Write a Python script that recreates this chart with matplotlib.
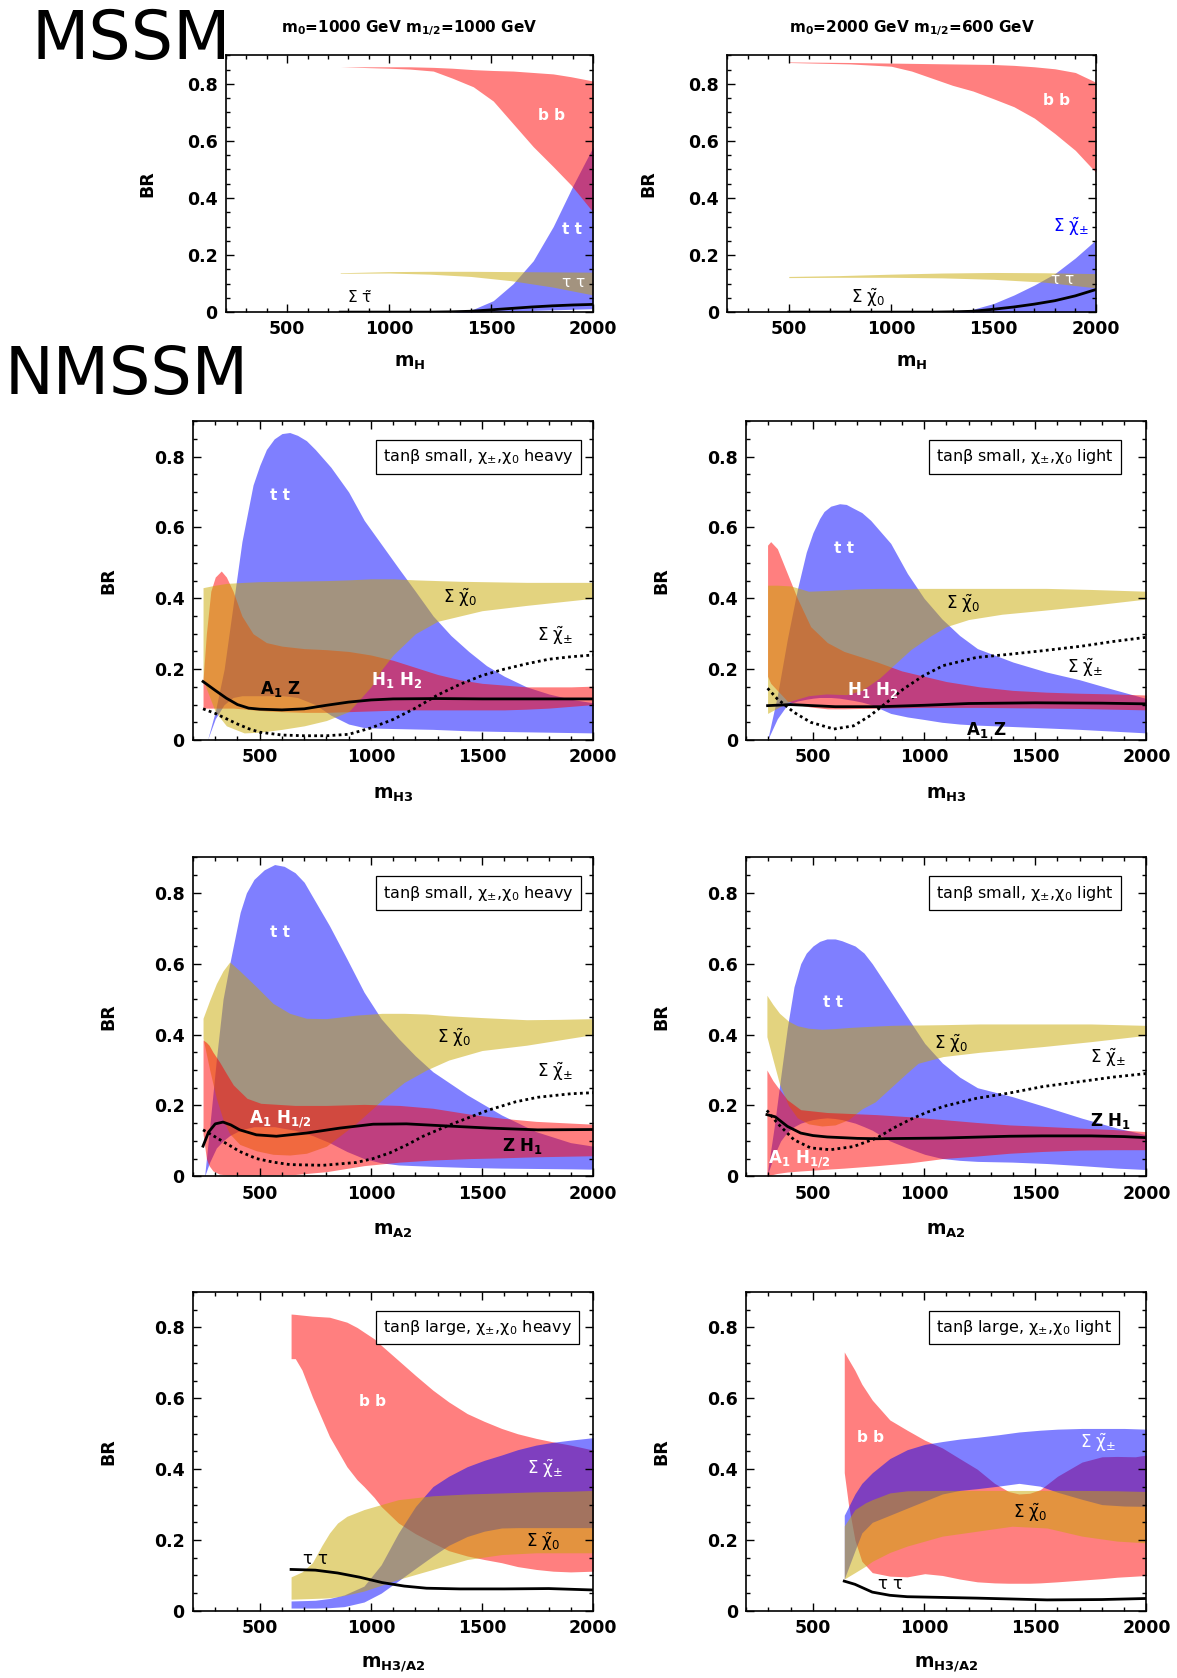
import matplotlib
matplotlib.use("Agg")
import matplotlib.pyplot as plt
from matplotlib.ticker import MultipleLocator

plt.rcParams['font.family'] = ['DejaVu Sans']
plt.rcParams['mathtext.default'] = 'regular'

# ---------------- data ----------------
# MSSM, m0=1000 m1/2=1000
p1_bb_x = [760, 900, 1000, 1100, 1216, 1310, 1412, 1510, 1608, 1706, 1804, 1892, 2000]
p1_bb_hi = [0.86, 0.86, 0.86, 0.86, 0.858, 0.855, 0.85, 0.847, 0.845, 0.84, 0.835, 0.825, 0.81]
p1_bb_lo = [0.86, 0.857, 0.855, 0.852, 0.845, 0.82, 0.79, 0.74, 0.66, 0.58, 0.51, 0.445, 0.35]
p1_tt_x = [1310, 1412, 1510, 1608, 1706, 1804, 1902, 2000]
p1_tt_hi = [0.0, 0.01, 0.04, 0.1, 0.18, 0.3, 0.445, 0.58]
p1_tt_lo = [0.0, 0.0, 0.002, 0.004, 0.006, 0.008, 0.01, 0.012]
p1_tau_x = [760, 1000, 1200, 1400, 1600, 1800, 2000]
p1_tau_hi = [0.138, 0.142, 0.143, 0.143, 0.142, 0.141, 0.14]
p1_tau_lo = [0.136, 0.137, 0.133, 0.125, 0.11, 0.088, 0.06]
p1_stau_x = [760, 1000, 1200, 1300, 1400, 1500, 1600, 1700, 1800, 1900, 2000]
p1_stau = [0, 0, 0, 0.001, 0.003, 0.008, 0.013, 0.018, 0.022, 0.025, 0.027]

# MSSM, m0=2000 m1/2=600
p2_bb_x = [500, 800, 1000, 1100, 1200, 1300, 1400, 1500, 1600, 1700, 1800, 1900, 2000]
p2_bb_hi = [0.877, 0.875, 0.873, 0.872, 0.871, 0.87, 0.869, 0.868, 0.865, 0.86, 0.853, 0.84, 0.806]
p2_bb_lo = [0.875, 0.87, 0.862, 0.845, 0.82, 0.795, 0.775, 0.748, 0.72, 0.68, 0.626, 0.567, 0.49]
p2_chipm_x = [1300, 1400, 1500, 1600, 1700, 1800, 1900, 2000]
p2_chipm_hi = [0.0, 0.01, 0.03, 0.06, 0.095, 0.135, 0.19, 0.253]
p2_chipm_lo = [0, 0, 0, 0, 0, 0, 0, 0]
p2_tau_x = [500, 750, 1000, 1250, 1500, 1750, 2000]
p2_tau_hi = [0.125, 0.128, 0.133, 0.137, 0.139, 0.138, 0.135]
p2_tau_lo = [0.121, 0.122, 0.122, 0.12, 0.115, 0.105, 0.085]
p2_chi0_x = [500, 1000, 1200, 1300, 1400, 1500, 1600, 1700, 1800, 1900, 2000]
p2_chi0 = [0, 0, 0, 0.001, 0.003, 0.01, 0.018, 0.028, 0.04, 0.057, 0.079]

# NMSSM H3, tanb small, heavy
p3_tt_x = [265, 300, 340, 380, 420, 470, 500, 530, 565, 600, 635, 670, 710, 750, 820, 900, 970, 1050, 1130,
           1200, 1280, 1360, 1440, 1520, 1600, 1700, 1800, 1900, 2000]
p3_tt_hi = [0, 0.08, 0.2, 0.38, 0.56, 0.72, 0.775, 0.82, 0.85, 0.865, 0.868, 0.86, 0.845, 0.82, 0.77, 0.7,
            0.62, 0.55, 0.48, 0.42, 0.35, 0.295, 0.25, 0.21, 0.18, 0.15, 0.13, 0.115, 0.105]
p3_tt_lo = [0, 0.06, 0.1, 0.12, 0.125, 0.125, 0.125, 0.125, 0.125, 0.125, 0.123, 0.12, 0.11, 0.1, 0.07,
            0.045, 0.035, 0.033, 0.032, 0.031, 0.03, 0.028, 0.026, 0.025, 0.024, 0.023, 0.022, 0.021, 0.02]
p3_hh_x = [245, 260, 280, 300, 327, 350, 380, 420, 470, 530, 600, 700, 800, 900, 1000, 1100,
           1200, 1300, 1400, 1500, 1600, 1700, 1800, 1900, 2000]
p3_hh_hi = [0.17, 0.3, 0.42, 0.46, 0.477, 0.46, 0.42, 0.35, 0.3, 0.275, 0.265, 0.258, 0.255, 0.25, 0.24, 0.225,
            0.205, 0.185, 0.17, 0.16, 0.155, 0.15, 0.15, 0.15, 0.152]
p3_hh_lo = [0.09, 0.09, 0.09, 0.09, 0.09, 0.09, 0.09, 0.088, 0.085, 0.082, 0.08, 0.078, 0.078, 0.08, 0.082, 0.084,
            0.085, 0.085, 0.085, 0.085, 0.085, 0.087, 0.09, 0.095, 0.1]
p3_chi0_x = [245, 300, 350, 430, 500, 600, 700, 800, 900, 1000, 1050, 1100, 1200, 1300, 1400, 1500, 1700, 1850, 2000]
p3_chi0_hi = [0.43, 0.437, 0.442, 0.445, 0.447, 0.448, 0.449, 0.45, 0.452, 0.455, 0.455, 0.455, 0.452,
              0.45, 0.448, 0.447, 0.445, 0.445, 0.445]
p3_chi0_lo = [0.17, 0.08, 0.04, 0.02, 0.022, 0.03, 0.04, 0.055, 0.08, 0.15, 0.2, 0.24, 0.3, 0.335, 0.35,
              0.365, 0.38, 0.39, 0.4]
p3_a1z_x = [245, 300, 350, 400, 450, 500, 600, 700, 800, 900, 1000, 1100, 1300, 1500, 1750, 2000]
p3_a1z = [0.165, 0.14, 0.118, 0.1, 0.09, 0.087, 0.085, 0.088, 0.098, 0.107, 0.113, 0.116, 0.117, 0.116, 0.116, 0.116]
p3_chipm_x = [245, 300, 350, 400, 450, 500, 600, 700, 800, 900, 1000, 1100, 1200, 1300, 1400, 1500,
              1600, 1700, 1800, 1900, 2000]
p3_chipm = [0.088, 0.075, 0.06, 0.045, 0.032, 0.022, 0.014, 0.012, 0.012, 0.016, 0.034, 0.058, 0.09, 0.127,
            0.157, 0.182, 0.2, 0.215, 0.228, 0.235, 0.24]

# NMSSM H3, tanb small, light
p4_tt_x = [296, 340, 385, 430, 470, 500, 530, 550, 580, 620, 650, 680, 720, 760, 850, 925, 1000, 1080, 1160,
           1240, 1400, 1550, 1700, 1850, 2000]
p4_tt_hi = [0, 0.125, 0.285, 0.425, 0.53, 0.585, 0.625, 0.645, 0.66, 0.667, 0.665, 0.655, 0.642, 0.62, 0.555,
            0.47, 0.4, 0.342, 0.295, 0.258, 0.22, 0.192, 0.17, 0.143, 0.117]
p4_tt_lo = [0, 0.06, 0.1, 0.11, 0.115, 0.118, 0.12, 0.12, 0.12, 0.118, 0.115, 0.112, 0.107, 0.1, 0.075,
            0.065, 0.058, 0.05, 0.045, 0.042, 0.038, 0.034, 0.03, 0.025, 0.02]
p4_hh_x = [296, 310, 340, 385, 430, 490, 565, 640, 790, 900, 1000, 1100, 1250, 1400, 1550, 1700, 1850, 2000]
p4_hh_hi = [0.55, 0.56, 0.54, 0.47, 0.4, 0.32, 0.275, 0.25, 0.22, 0.195, 0.18, 0.165, 0.15, 0.14, 0.135, 0.132, 0.13, 0.127]
p4_hh_lo = [0.18, 0.16, 0.14, 0.11, 0.1, 0.093, 0.088, 0.088, 0.09, 0.091, 0.092, 0.092, 0.092, 0.091, 0.09, 0.089, 0.087, 0.085]
p4_chi0_x = [296, 340, 400, 480, 560, 650, 720, 800, 870, 940, 1030, 1100, 1200, 1350, 1550, 1750, 2000]
p4_chi0_hi = [0.437, 0.437, 0.435, 0.42, 0.422, 0.425, 0.427, 0.428, 0.428, 0.428, 0.428, 0.428, 0.428,
              0.428, 0.428, 0.425, 0.42]
p4_chi0_lo = [0.075, 0.09, 0.11, 0.125, 0.13, 0.128, 0.14, 0.175, 0.215, 0.255, 0.294, 0.32, 0.34, 0.355,
              0.367, 0.38, 0.398]
p4_a1z_x = [296, 400, 600, 800, 1000, 1200, 1500, 1800, 2000]
p4_a1z = [0.097, 0.1, 0.094, 0.094, 0.098, 0.103, 0.105, 0.104, 0.102]
p4_chipm_x = [296, 340, 415, 490, 594, 683, 758, 832, 907, 996, 1086, 1235, 1384, 1533, 1710, 1850, 2000]
p4_chipm = [0.146, 0.116, 0.078, 0.05, 0.031, 0.04, 0.069, 0.106, 0.144, 0.181, 0.21, 0.233, 0.242, 0.252,
            0.265, 0.278, 0.29]

# NMSSM A2, tanb small, heavy
p5_tt_x = [252, 275, 305, 335, 365, 412, 440, 474, 520, 567, 610, 659, 700, 737, 814, 892, 969, 1046, 1124,
           1200, 1279, 1433, 1588, 1743, 1898, 2000]
p5_tt_hi = [0, 0.14, 0.33, 0.5, 0.6, 0.745, 0.8, 0.838, 0.865, 0.88, 0.875, 0.857, 0.83, 0.79, 0.707, 0.614,
            0.52, 0.445, 0.389, 0.34, 0.295, 0.23, 0.173, 0.126, 0.095, 0.085]
p5_tt_lo = [0, 0.04, 0.08, 0.1, 0.115, 0.13, 0.135, 0.14, 0.14, 0.14, 0.135, 0.13, 0.122, 0.115, 0.095, 0.07,
            0.05, 0.038, 0.032, 0.03, 0.028, 0.025, 0.023, 0.022, 0.021, 0.02]
p5_ah_x = [245, 260, 272, 290, 319, 350, 381, 443, 505, 659, 800, 969, 1130, 1279, 1450, 1588, 1743, 2000]
p5_ah_hi = [0.385, 0.378, 0.37, 0.35, 0.323, 0.29, 0.258, 0.22, 0.206, 0.2, 0.2, 0.203, 0.2, 0.192, 0.175,
            0.164, 0.155, 0.147]
p5_ah_lo = [0.12, 0.05, 0.03, 0.015, 0.006, 0.004, 0.003, 0.003, 0.003, 0.005, 0.013, 0.03, 0.04, 0.046,
            0.05, 0.052, 0.055, 0.058]
p5_chi0_x = [245, 275, 305, 335, 365, 410, 485, 560, 635, 710, 800, 935, 1050, 1150, 1250, 1350, 1500, 1700, 1850, 2000]
p5_chi0_hi = [0.446, 0.497, 0.544, 0.58, 0.605, 0.58, 0.535, 0.488, 0.46, 0.446, 0.445, 0.455, 0.46, 0.46,
              0.458, 0.453, 0.448, 0.442, 0.443, 0.445]
p5_chi0_lo = [0.39, 0.3, 0.22, 0.16, 0.12, 0.09, 0.072, 0.062, 0.06, 0.065, 0.085, 0.15, 0.215, 0.265,
              0.3, 0.328, 0.355, 0.37, 0.385, 0.4]
p5_zh_x = [245, 270, 300, 335, 370, 410, 485, 575, 710, 860, 1010, 1160, 1310, 1535, 1750, 2000]
p5_zh = [0.085, 0.125, 0.148, 0.153, 0.145, 0.131, 0.117, 0.113, 0.122, 0.136, 0.147, 0.148, 0.143, 0.136, 0.131, 0.132]
p5_chipm_x = [245, 290, 335, 410, 485, 560, 635, 785, 935, 1010, 1085, 1160, 1235, 1355, 1450, 1535, 1650, 1750, 1900, 2000]
p5_chipm = [0.131, 0.115, 0.098, 0.07, 0.05, 0.04, 0.033, 0.031, 0.039, 0.05, 0.066, 0.088, 0.113, 0.145,
            0.168, 0.188, 0.21, 0.223, 0.233, 0.236]

# NMSSM A2, tanb small, light
p6_tt_x = [293, 326, 355, 385, 415, 445, 470, 500, 530, 563, 600, 630, 690, 730, 767, 846, 924, 1003, 1082,
           1160, 1240, 1396, 1553, 1710, 1868, 2000]
p6_tt_hi = [0, 0.14, 0.28, 0.42, 0.535, 0.6, 0.63, 0.65, 0.663, 0.67, 0.67, 0.665, 0.65, 0.63, 0.6, 0.525,
            0.45, 0.375, 0.32, 0.28, 0.25, 0.225, 0.195, 0.164, 0.136, 0.117]
p6_tt_lo = [0, 0.06, 0.1, 0.125, 0.14, 0.15, 0.155, 0.16, 0.163, 0.165, 0.163, 0.16, 0.15, 0.14, 0.13, 0.1,
            0.08, 0.062, 0.05, 0.045, 0.042, 0.04, 0.036, 0.03, 0.023, 0.019]
p6_ah_x = [293, 320, 340, 385, 445, 564, 640, 788, 937, 1086, 1235, 1384, 1532, 1700, 1850, 2000]
p6_ah_hi = [0.3, 0.27, 0.253, 0.216, 0.188, 0.18, 0.178, 0.174, 0.168, 0.16, 0.152, 0.145, 0.141, 0.136, 0.132, 0.126]
p6_ah_lo = [0.0, 0.005, 0.008, 0.012, 0.015, 0.02, 0.023, 0.03, 0.038, 0.05, 0.057, 0.065, 0.07, 0.074, 0.075, 0.075]
p6_chi0_x = [293, 320, 350, 390, 430, 480, 540, 600, 660, 720, 780, 850, 920, 973, 1086, 1250, 1532, 1750, 2000]
p6_chi0_hi = [0.511, 0.485, 0.46, 0.438, 0.425, 0.418, 0.415, 0.417, 0.42, 0.422, 0.424, 0.426, 0.427,
              0.427, 0.428, 0.43, 0.43, 0.43, 0.426]
p6_chi0_lo = [0.394, 0.33, 0.26, 0.2, 0.165, 0.148, 0.142, 0.145, 0.16, 0.19, 0.21, 0.25, 0.29, 0.319,
              0.338, 0.35, 0.366, 0.38, 0.398]
p6_zh_x = [293, 330, 385, 445, 500, 564, 700, 788, 1086, 1384, 1532, 1750, 1900, 2000]
p6_zh = [0.174, 0.168, 0.141, 0.122, 0.115, 0.111, 0.107, 0.106, 0.108, 0.113, 0.114, 0.114, 0.112, 0.109]
p6_chipm_x = [293, 340, 415, 490, 579, 683, 788, 862, 937, 1010, 1086, 1235, 1384, 1532, 1710, 1850, 2000]
p6_chipm = [0.186, 0.15, 0.103, 0.08, 0.075, 0.084, 0.108, 0.136, 0.16, 0.18, 0.197, 0.22, 0.235, 0.253,
            0.268, 0.28, 0.29]

# NMSSM H3/A2, tanb large, heavy
p7_bb_x = [641, 660, 690, 737, 814, 892, 938, 969, 1015, 1046, 1124, 1200, 1279, 1350, 1433, 1510,
           1588, 1660, 1743, 1820, 1898, 2000]
p7_bb_hi = [0.838, 0.837, 0.835, 0.832, 0.829, 0.815, 0.8, 0.787, 0.768, 0.75, 0.707, 0.665, 0.623, 0.59,
            0.557, 0.535, 0.515, 0.5, 0.487, 0.477, 0.468, 0.454]
p7_bb_lo = [0.712, 0.712, 0.68, 0.604, 0.492, 0.407, 0.37, 0.351, 0.32, 0.295, 0.248, 0.218, 0.192, 0.17,
            0.155, 0.145, 0.136, 0.125, 0.117, 0.112, 0.11, 0.112]
p7_chipm_x = [641, 700, 750, 814, 880, 969, 1046, 1124, 1201, 1279, 1350, 1433, 1510, 1588, 1660, 1743,
              1820, 1898, 2000]
p7_chipm_hi = [0.028, 0.029, 0.03, 0.035, 0.045, 0.07, 0.13, 0.22, 0.295, 0.351, 0.38, 0.407, 0.425, 0.44,
               0.455, 0.468, 0.476, 0.482, 0.489]
p7_chipm_lo = [0.008, 0.008, 0.008, 0.009, 0.012, 0.025, 0.05, 0.085, 0.12, 0.155, 0.185, 0.21, 0.225,
               0.234, 0.235, 0.235, 0.235, 0.235, 0.235]
p7_chi0_x = [641, 690, 737, 780, 814, 850, 892, 969, 1046, 1124, 1279, 1433, 1588, 1743, 1900, 2000]
p7_chi0_hi = [0.096, 0.11, 0.136, 0.185, 0.22, 0.248, 0.267, 0.286, 0.3, 0.314, 0.325, 0.33, 0.333, 0.336, 0.338, 0.34]
p7_chi0_lo = [0.033, 0.034, 0.035, 0.036, 0.037, 0.04, 0.045, 0.056, 0.072, 0.089, 0.117, 0.145, 0.159,
              0.164, 0.164, 0.164]
p7_tau_x = [641, 750, 850, 950, 1050, 1150, 1250, 1400, 1600, 1800, 2000]
p7_tau = [0.117, 0.115, 0.107, 0.095, 0.08, 0.07, 0.064, 0.062, 0.062, 0.063, 0.059]

# NMSSM H3/A2, tanb large, light
p8_bb_x = [641, 660, 689, 720, 767, 846, 924, 1003, 1082, 1160, 1239, 1317, 1380, 1427, 1475, 1522,
           1600, 1710, 1800, 1868, 1950, 2000]
p8_bb_hi = [0.731, 0.71, 0.679, 0.64, 0.595, 0.539, 0.51, 0.482, 0.46, 0.43, 0.4, 0.36, 0.337, 0.33,
            0.332, 0.342, 0.38, 0.42, 0.435, 0.436, 0.435, 0.44]
p8_bb_lo = [0.39, 0.3, 0.2, 0.14, 0.108, 0.098, 0.096, 0.105, 0.1, 0.09, 0.082, 0.079, 0.078, 0.078,
            0.078, 0.079, 0.082, 0.087, 0.091, 0.095, 0.098, 0.1]
p8_chipm_x = [641, 689, 720, 767, 846, 924, 1003, 1082, 1160, 1239, 1333, 1427, 1522, 1600, 1710, 1800, 1900, 2000]
p8_chipm_hi = [0.27, 0.33, 0.36, 0.39, 0.43, 0.455, 0.47, 0.478, 0.485, 0.49, 0.497, 0.505, 0.51, 0.513,
               0.515, 0.515, 0.515, 0.513]
p8_chipm_lo = [0.09, 0.17, 0.22, 0.25, 0.27, 0.29, 0.31, 0.33, 0.34, 0.345, 0.352, 0.36, 0.352, 0.335,
               0.315, 0.3, 0.296, 0.295]
p8_chi0_x = [641, 689, 736, 767, 846, 924, 1082, 1239, 1396, 1553, 1710, 1868, 2000]
p8_chi0_hi = [0.24, 0.286, 0.305, 0.314, 0.333, 0.339, 0.34, 0.34, 0.34, 0.34, 0.34, 0.339, 0.337]
p8_chi0_lo = [0.09, 0.108, 0.126, 0.14, 0.165, 0.183, 0.211, 0.225, 0.239, 0.234, 0.211, 0.197, 0.192]
p8_tau_x = [641, 689, 767, 846, 924, 1239, 1553, 1800, 2000]
p8_tau = [0.084, 0.075, 0.053, 0.044, 0.04, 0.036, 0.031, 0.032, 0.035]

RED = '#ff0000'
BLUE = '#0000ff'
YELLOW = '#c8a800'

CHI0 = r'$\Sigma\ \tilde{\chi}_0$'
CHIPM = r'$\Sigma\ \tilde{\chi}_{\pm}$'


def band(ax, x, lo, hi, color):
    ax.fill_between(x, lo, hi, color=color, alpha=0.5, lw=0)


def style(ax, xlabel, xlab_y):
    ax.set_xlim(200, 2000)
    ax.set_ylim(0, 0.9)
    ax.set_xticks([500, 1000, 1500, 2000])
    ax.xaxis.set_minor_locator(MultipleLocator(100))
    ax.set_yticks([0, 0.2, 0.4, 0.6, 0.8])
    ax.set_yticklabels(['0', '0.2', '0.4', '0.6', '0.8'])
    ax.yaxis.set_minor_locator(MultipleLocator(0.05))
    ax.tick_params(which='both', direction='in', top=True, right=True, width=1)
    ax.tick_params(which='major', length=6, pad=6, labelsize=12.5)
    ax.tick_params(which='minor', length=3)
    for lab in ax.get_xticklabels() + ax.get_yticklabels():
        lab.set_fontweight('bold')
    for sp in ax.spines.values():
        sp.set_linewidth(1.2)
    ax.set_ylabel('BR', fontweight='bold', fontsize=12.5)
    ax.yaxis.set_label_coords(-0.19, 0.5)
    ax.set_xlabel(xlabel, fontsize=13.5)
    ax.xaxis.set_label_coords(0.5, xlab_y)


def tag(ax, s):
    ax.text(0.474, 0.918, s, transform=ax.transAxes, ha='left', va='top', fontsize=11.5,
            bbox=dict(boxstyle='square,pad=0.45', fc='white', ec='black', lw=0.9), zorder=5)


def lab(ax, x, y, s, color='black', bold=False, size=12):
    ax.text(x, y, s, color=color, fontweight='bold' if bold else 'normal', fontsize=size,
            ha='center', va='center', zorder=4)


fig = plt.figure(figsize=(11.77, 16.78), dpi=100)

fig.text(0.027, 0.965, 'MSSM', fontsize=48, ha='left', va='baseline')
fig.text(0.004, 0.765, 'NMSSM', fontsize=47, ha='left', va='baseline')

# ---- MSSM left
ax = fig.add_axes([0.192, 0.814, 0.312, 0.153])
band(ax, p1_tt_x, p1_tt_lo, p1_tt_hi, BLUE)
band(ax, p1_bb_x, p1_bb_lo, p1_bb_hi, RED)
band(ax, p1_tau_x, p1_tau_lo, p1_tau_hi, YELLOW)
ax.plot(p1_stau_x, p1_stau, color='black', lw=2)
lab(ax, 1794, 0.69, 'b b', 'white', True, 11)
lab(ax, 1896, 0.29, 't t', 'white', True, 11)
lab(ax, 1902, 0.105, r'$\tau\ \tau$', 'white', False, 11)
lab(ax, 853, 0.05, r'$\Sigma\ \tilde{\tau}$', 'black', False, 11)
style(ax, r'$\mathbf{m_H}$', -0.16)
ax.text(0.5, 1.105, r'$\mathbf{m_0}$=1000 GeV $\mathbf{m_{1/2}}$=1000 GeV', transform=ax.transAxes,
        ha='center', va='center', fontsize=11, fontweight='bold')

# ---- MSSM right
ax = fig.add_axes([0.618, 0.814, 0.313, 0.153])
band(ax, p2_bb_x, p2_bb_lo, p2_bb_hi, RED)
band(ax, p2_chipm_x, p2_chipm_lo, p2_chipm_hi, BLUE)
band(ax, p2_tau_x, p2_tau_lo, p2_tau_hi, YELLOW)
ax.plot(p2_chi0_x, p2_chi0, color='black', lw=2)
lab(ax, 1810, 0.742, 'b b', 'white', True, 11)
lab(ax, 1877, 0.30, CHIPM, 'blue', False, 12)
lab(ax, 1837, 0.116, r'$\tau\ \tau$', 'white', False, 11)
lab(ax, 886, 0.05, CHI0, 'black', False, 12)
style(ax, r'$\mathbf{m_H}$', -0.16)
ax.text(0.5, 1.105, r'$\mathbf{m_0}$=2000 GeV $\mathbf{m_{1/2}}$=600 GeV', transform=ax.transAxes,
        ha='center', va='center', fontsize=11, fontweight='bold')

left_x, right_x, w, h = 0.164, 0.634, 0.340, 0.190

# ---- H3 heavy
ax = fig.add_axes([left_x, 0.559, w, h])
band(ax, p3_tt_x, p3_tt_lo, p3_tt_hi, BLUE)
band(ax, p3_hh_x, p3_hh_lo, p3_hh_hi, RED)
band(ax, p3_chi0_x, p3_chi0_lo, p3_chi0_hi, YELLOW)
ax.plot(p3_a1z_x, p3_a1z, color='black', lw=2)
ax.plot(p3_chipm_x, p3_chipm, color='black', lw=2, ls=(0, (1, 1.2)))
lab(ax, 593, 0.69, 't t', 'white', True, 11)
lab(ax, 1402, 0.40, CHI0)
lab(ax, 1828, 0.295, CHIPM)
lab(ax, 1116, 0.17, r'$\mathbf{H_1\ H_2}$', 'white', True, 12)
lab(ax, 590, 0.145, r'$\mathbf{A_1\ Z}$', 'black', True, 12)
tag(ax, r'tan$\beta$ small, $\chi_{\pm}$,$\chi_0$ heavy')
style(ax, r'$\mathbf{m_{H3}}$', -0.14)

# ---- H3 light
ax = fig.add_axes([right_x, 0.559, w, h])
band(ax, p4_tt_x, p4_tt_lo, p4_tt_hi, BLUE)
band(ax, p4_hh_x, p4_hh_lo, p4_hh_hi, RED)
band(ax, p4_chi0_x, p4_chi0_lo, p4_chi0_hi, YELLOW)
ax.plot(p4_a1z_x, p4_a1z, color='black', lw=2)
ax.plot(p4_chipm_x, p4_chipm, color='black', lw=2, ls=(0, (1, 1.2)))
lab(ax, 641, 0.54, 't t', 'white', True, 11)
lab(ax, 1176, 0.385, CHI0)
lab(ax, 1726, 0.205, CHIPM)
lab(ax, 767, 0.14, r'$\mathbf{H_1\ H_2}$', 'white', True, 12)
lab(ax, 1278, 0.028, r'$\mathbf{A_1\ Z}$', 'black', True, 12)
tag(ax, r'tan$\beta$ small, $\chi_{\pm}$,$\chi_0$ light')
style(ax, r'$\mathbf{m_{H3}}$', -0.14)

# ---- A2 heavy
ax = fig.add_axes([left_x, 0.299, w, h])
band(ax, p5_tt_x, p5_tt_lo, p5_tt_hi, BLUE)
band(ax, p5_chi0_x, p5_chi0_lo, p5_chi0_hi, YELLOW)
band(ax, p5_ah_x, p5_ah_lo, p5_ah_hi, RED)
ax.plot(p5_zh_x, p5_zh, color='black', lw=2)
ax.plot(p5_chipm_x, p5_chipm, color='black', lw=2, ls=(0, (1, 1.2)))
lab(ax, 593, 0.687, 't t', 'white', True, 11)
lab(ax, 1376, 0.39, CHI0)
lab(ax, 1828, 0.295, CHIPM)
lab(ax, 593, 0.16, r'$\mathbf{A_1\ H_{1/2}}$', 'white', True, 12)
lab(ax, 1681, 0.085, r'$\mathbf{Z\ H_1}$', 'black', True, 12)
tag(ax, r'tan$\beta$ small, $\chi_{\pm}$,$\chi_0$ heavy')
style(ax, r'$\mathbf{m_{A2}}$', -0.14)

# ---- A2 light
ax = fig.add_axes([right_x, 0.299, w, h])
band(ax, p6_tt_x, p6_tt_lo, p6_tt_hi, BLUE)
band(ax, p6_chi0_x, p6_chi0_lo, p6_chi0_hi, YELLOW)
band(ax, p6_ah_x, p6_ah_lo, p6_ah_hi, RED)
ax.plot(p6_zh_x, p6_zh, color='black', lw=2)
ax.plot(p6_chipm_x, p6_chipm, color='black', lw=2, ls=(0, (1, 1.2)))
lab(ax, 591, 0.49, 't t', 'white', True, 11)
lab(ax, 1121, 0.375, CHI0)
lab(ax, 1828, 0.335, CHIPM)
lab(ax, 1836, 0.155, r'$\mathbf{Z\ H_1}$', 'black', True, 12)
lab(ax, 437, 0.047, r'$\mathbf{A_1\ H_{1/2}}$', 'white', True, 12)
tag(ax, r'tan$\beta$ small, $\chi_{\pm}$,$\chi_0$ light')
style(ax, r'$\mathbf{m_{A2}}$', -0.14)

# ---- large tanb heavy
ax = fig.add_axes([left_x, 0.040, w, h])
band(ax, p7_bb_x, p7_bb_lo, p7_bb_hi, RED)
band(ax, p7_chipm_x, p7_chipm_lo, p7_chipm_hi, BLUE)
band(ax, p7_chi0_x, p7_chi0_lo, p7_chi0_hi, YELLOW)
ax.plot(p7_tau_x, p7_tau, color='black', lw=2)
lab(ax, 1009, 0.59, 'b b', 'white', True, 11)
lab(ax, 1782, 0.40, CHIPM, 'white')
lab(ax, 1774, 0.195, CHI0)
lab(ax, 752, 0.147, r'$\tau\ \tau$')
tag(ax, r'tan$\beta$ large, $\chi_{\pm}$,$\chi_0$ heavy')
style(ax, r'$\mathbf{m_{H3/A2}}$', -0.135)

# ---- large tanb light
ax = fig.add_axes([right_x, 0.040, w, h])
band(ax, p8_bb_x, p8_bb_lo, p8_bb_hi, RED)
band(ax, p8_chipm_x, p8_chipm_lo, p8_chipm_hi, BLUE)
band(ax, p8_chi0_x, p8_chi0_lo, p8_chi0_hi, YELLOW)
ax.plot(p8_tau_x, p8_tau, color='black', lw=2)
lab(ax, 759, 0.49, 'b b', 'white', True, 11)
lab(ax, 1781, 0.473, CHIPM, 'white')
lab(ax, 1475, 0.276, CHI0)
lab(ax, 849, 0.075, r'$\tau\ \tau$')
tag(ax, r'tan$\beta$ large, $\chi_{\pm}$,$\chi_0$ light')
style(ax, r'$\mathbf{m_{H3/A2}}$', -0.135)

fig.savefig('out.png', dpi=100)
